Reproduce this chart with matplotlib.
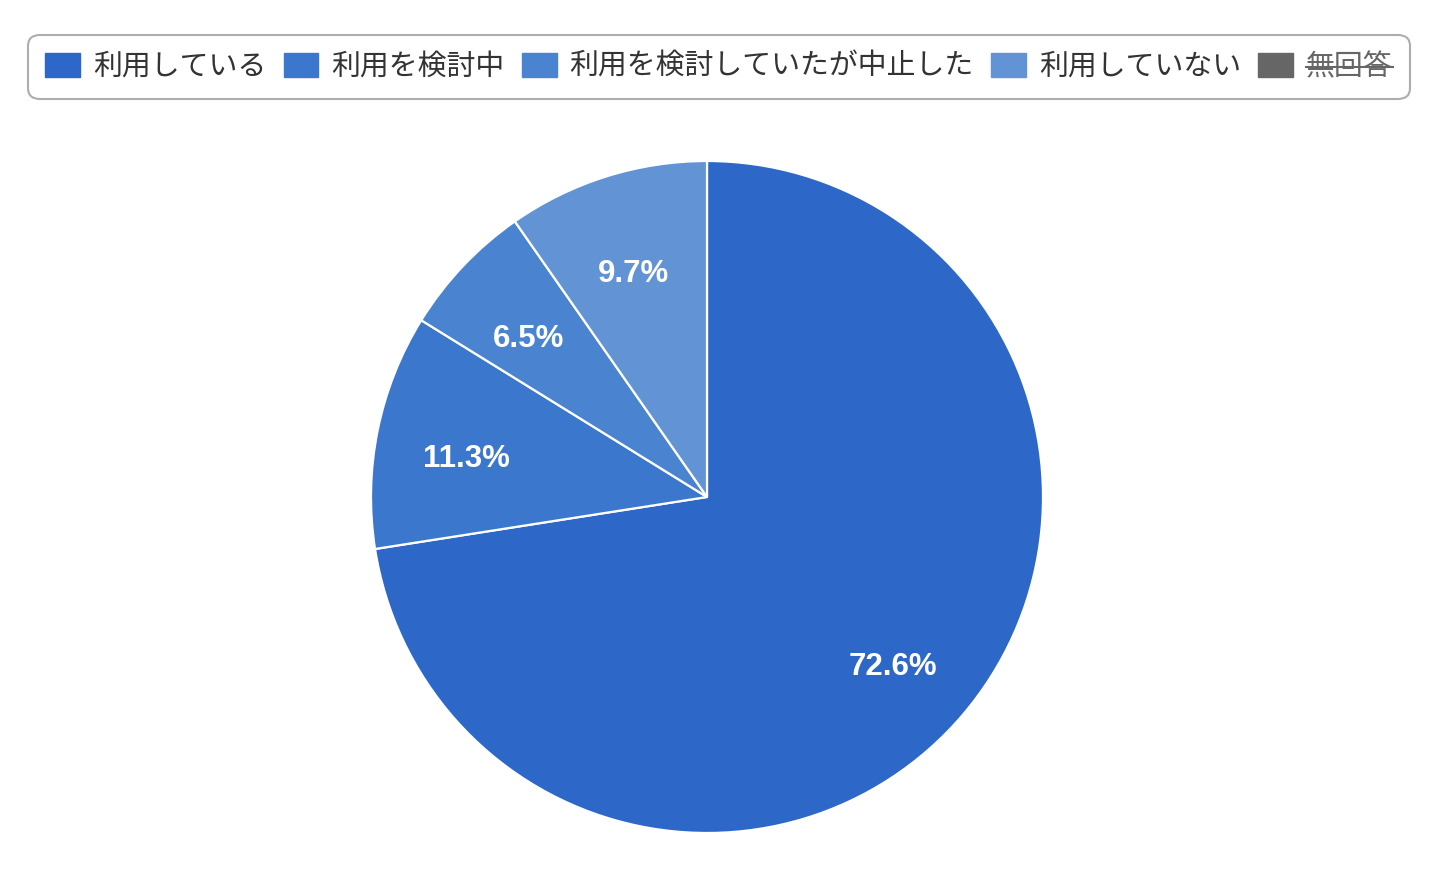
import matplotlib.pyplot as plt
from matplotlib.patches import Patch
from matplotlib.lines import Line2D

plt.rcParams['font.family'] = ['Noto Sans CJK JP', 'DejaVu Sans']

# data
labels = ['利用している', '利用を検討中', '利用を検討していたが中止した', '利用していない', '無回答']
values = [72.6, 11.3, 6.5, 9.7, 0.0]
colors = ['#2d68c8', '#3b77cc', '#4a84d0', '#6294d5', '#666666']

fig = plt.figure(figsize=(14.42, 8.85), dpi=100)

W, H = 1442, 885
cx, cy, r = 707, 497, 336
ax = fig.add_axes([(cx - r) / W, (H - cy - r) / H, 2 * r / W, 2 * r / H])

shown = [v for v in values if v > 0]
wedges, texts = ax.pie(shown, colors=colors[:len(shown)], startangle=90, counterclock=False,
                       labels=[f'{v:.1f}%' for v in shown], labeldistance=0.73,
                       wedgeprops=dict(edgecolor='white', linewidth=1.6, joinstyle='round'),
                       textprops=dict(color='white', fontsize=22.5, fontweight='bold',
                                      family='Liberation Sans', ha='center', va='center'))
for t in texts:
    x, y = t.get_position()
    t.set_position((x, y - 0.032))
ax.set_xlim(-1, 1)
ax.set_ylim(-1, 1)
ax.set_aspect('auto')
ax.axis('off')

# legend
handles = [Patch(facecolor=c, edgecolor=c, joinstyle='round') for c in colors]
leg = fig.legend(handles, labels, ncol=5, loc='center', bbox_to_anchor=((30 + 1408) / 2 / W, 1 - 67 / H),
                 fontsize=20.8, frameon=True, handlelength=1.2, handleheight=0.9,
                 handletextpad=0.45, columnspacing=0.6, borderpad=0.6, labelcolor='#333333')
frame = leg.get_frame()
frame.set_boxstyle('round,pad=0,rounding_size=0.4')
frame.set_edgecolor('#999999')
frame.set_linewidth(1.5)
texts_leg = leg.get_texts()
texts_leg[-1].set_color('#666666')

fig.canvas.draw()
bb = texts_leg[-1].get_window_extent().transformed(fig.transFigure.inverted())
ymid = (bb.y0 + bb.y1) / 2
fig.add_artist(Line2D([bb.x0, bb.x1], [ymid, ymid], color='#666666', linewidth=1.5,
                      transform=fig.transFigure, zorder=20))

fig.savefig('out.png', dpi=100, facecolor='white')
